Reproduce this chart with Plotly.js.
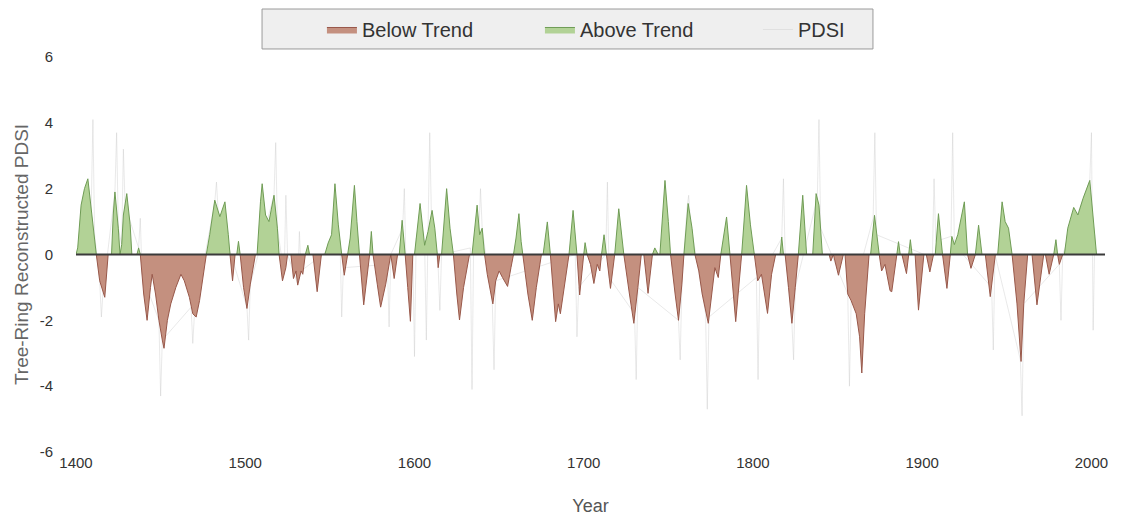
<!DOCTYPE html>
<html>
<head>
<meta charset="utf-8">
<script src="https://cdn.plot.ly/plotly-3.0.1.min.js"></script>
<style>html,body{margin:0;padding:0;background:#fff;}#chart{width:1122px;height:516px;}</style>
</head>
<body>
<div id="chart"></div>
<script>
// Smoothed (trend) reconstructed PDSI
var trendYears = [1400,1401,1403,1405,1407,1409,1411,1412,1414,1416,1417,1419,1421,1422,1423,1425,1426,1427,1428,1430,1432,1433,1436,1437,1438,1440,1442,1444,1445,1447,1449,1451,1452,1454,1456,1459,1462,1464,1467,1469,1471,1473,1475,1477,1479,1482,1485,1488,1490,1491,1492.5,1494,1495,1496,1497,1499,1501,1503,1506,1507,1509,1510,1512,1514,1517,1519,1520,1522,1524,1525,1527,1528.5,1530,1531,1533,1534,1535.5,1537,1538,1540,1542.5,1545,1547,1549,1551,1553,1555,1557,1558.5,1560.5,1562,1564.5,1566,1567.5,1570,1572,1573.5,1574.5,1575.5,1578,1580,1583,1586,1588,1590,1591,1592.7,1594.5,1596,1597.6,1599,1600,1603.3,1605,1606,1608,1610.4,1612,1613.5,1614,1615,1616,1619,1621,1623,1625,1626.6,1629,1632.5,1634,1637,1638.5,1640,1641.4,1643,1646.3,1648,1650,1652,1655,1657,1658.5,1660,1661.7,1663,1664,1667,1669.6,1672,1675,1676,1678.5,1680.3,1683.4,1685,1686.2,1689,1691.3,1693.7,1696,1697.6,1700,1700.8,1702,1704,1706,1708,1709.5,1710.5,1712,1713.4,1715.8,1718.3,1720.7,1723.7,1727,1729.6,1732,1734,1735.5,1738,1740.6,1742,1744,1745,1746.5,1748,1750,1751.3,1754,1756,1758,1759.2,1761.7,1764,1765.7,1768,1770,1773.6,1776,1777.5,1779.5,1781,1784.4,1786.4,1789.8,1793.3,1795,1796.2,1798.5,1800.8,1802.8,1805,1808.6,1811,1813.4,1816,1817,1818,1819,1821,1823,1825,1826.8,1829.4,1831.7,1834,1835.3,1837.3,1839,1841,1845,1846,1847.5,1850.5,1853.4,1854.4,1856,1858,1861,1863,1864.3,1866,1868.6,1869.5,1871.8,1874.6,1876,1878,1881,1882,1885,1886,1887,1888,1890.7,1892,1893,1894,1895.8,1897.8,1901,1902.4,1904.5,1906.7,1907.7,1909.6,1912,1914.6,1916.6,1917.5,1919,1921,1924.9,1926.8,1928.8,1931.4,1933.3,1935.3,1937.3,1940.2,1943.2,1944.6,1947.2,1949,1951,1953.1,1956,1958.4,1960,1962.3,1964.9,1967.8,1971.8,1972.8,1975,1977.7,1979,1980,1981,1983,1984,1986,1989.5,1992,1995,1999,2001,2003];
var trendValues = [0,0.2,1.5,2.0,2.3,1.4,0.6,0,-0.8,-1.1,-1.3,0,0,1.2,1.9,0.8,0,0.3,1.2,1.85,0.9,0,0,0.2,0,-1.2,-2.0,-1.0,-0.6,-1.2,-2.0,-2.6,-2.85,-2.0,-1.5,-1.0,-0.6,-0.8,-1.3,-1.8,-1.9,-1.4,-0.7,0,0.6,1.65,1.15,1.6,0.6,0,-0.8,0,0,0.4,0,-1.0,-1.64,-0.9,0,0,1.6,2.15,1.2,1.0,1.8,0.8,0,-0.8,-0.4,0,0,-0.73,-0.5,-0.93,-0.5,-0.6,0,0.28,0,0,-1.13,0,0,0.35,0.6,2.15,0.9,0,-0.63,0,0.5,2.1,1.0,0,-1.53,-0.6,0,0.7,0,-0.9,-1.6,-0.9,0,-0.73,0,0,1.04,0,-1.0,-2.03,0,0,1.55,0.6,0.28,0.7,1.34,0.8,0,-0.4,0,0,2.0,0.8,0,-1.2,-1.99,-1.0,0,0,1.5,0.6,0.8,0,-0.6,-1.5,-0.8,-0.5,-0.7,-0.97,-0.4,0,0.5,1.24,0.4,0,-1.2,-2.0,-1.0,0,0,0.99,0,-2.04,-1.5,-1.8,-0.8,0,1.34,0,-1.23,0,0.36,0,-0.3,-0.88,-0.3,-0.5,0,0.6,0,-1.03,0,1.39,0,-1.2,-2.09,-1.0,0,0,-1.18,0,0.2,0,0,1.2,2.25,1.0,0,-1.2,-2.0,-0.9,0,1.55,0.8,0,-0.5,-1.2,-2.09,-1.0,-0.4,-0.7,0,1.14,0,-2.04,0,1.2,2.1,0.9,0,-0.8,-0.6,-1.79,-0.6,0,0,0.53,0,0,-1.0,-2.09,-1.0,0,1.8,0,0,0,1.85,1.5,0,0,-0.2,0,-0.63,0,0,-1.2,-1.4,-1.8,-2.5,-3.6,-1.8,0,0,1.19,0,-0.5,-0.3,-1.1,-1.13,0,0.39,0,0,-0.58,0,0.45,0,0,-1.69,0,0,-0.53,0,0,1.24,0,-1.03,0,0.55,0.3,0.6,1.6,0,-0.42,0,0.89,0,0,-1.28,0,0,1.6,1.0,0.8,0,-1.5,-3.25,-1.5,0,0,-1.53,0,0,-0.6,0,0.45,0,-0.3,0,0,0.8,1.43,1.2,1.7,2.25,1.1,0];

// Annual PDSI (faint line), read where visible
var pdsiYears = [1409,1410,1411,1414,1415,1416,1423,1424,1425,1427,1428,1429,1437,1438,1439,1449,1450,1451,1468,1469,1470,1482,1483,1484,1501,1502,1503,1517,1518,1519,1523,1524,1525,1531,1532,1533,1556,1557,1558,1584,1585,1586,1593,1594,1595,1599,1600,1601,1606,1607,1608,1609,1610,1614,1615,1616,1633,1634,1635,1638,1639,1640,1646,1647,1648,1695,1696,1697,1713,1714,1715,1730,1731,1732,1756,1757,1758,1761,1762,1763,1772,1773,1774,1802,1803,1804,1817,1818,1819,1823,1824,1825,1838,1839,1840,1856,1857,1858,1871,1872,1873,1906,1907,1908,1917,1918,1919,1941,1942,1943,1958,1959,1960,1981,1982,1983,1999,2000,2001,2002];
var pdsiValues = [1.4,4.1,0.6,-0.8,-1.9,-1.1,1.9,3.7,0.8,0.3,3.2,1.5,0.2,1.1,-0.6,-2.0,-4.3,-2.6,-1.6,-2.7,-1.8,1.6,2.2,1.3,-1.6,-2.6,-0.9,1.8,3.4,0.8,-0.6,1.8,0,-0.9,0.7,-0.5,0.4,-1.9,-0.4,-0.3,-2.2,0,0.8,2.0,-0.3,0,-3.1,0.5,0.28,-2.6,0.7,3.7,1.2,-0.4,-1.7,0,0.2,-4.1,0.5,0.6,2.0,0.8,-1.5,-3.5,-0.8,0,-2.5,-1.0,0,2.2,-0.7,-1.8,-3.8,-1.0,-2.0,-3.2,-0.9,1.4,1.8,1.0,-1.8,-4.7,-1.9,-0.7,-3.8,-0.7,0.5,2.3,0,-2.09,-3.2,-1.0,1.7,4.1,0.8,-1.2,-4.0,-1.4,1.1,3.7,0.6,-0.1,2.3,0.4,0.55,3.7,0.3,-1.0,-2.9,0,-3.2,-4.9,-1.5,-0.3,-2.0,0,2.25,3.7,-2.3,0.6];

var tickYears = [1400,1500,1600,1700,1800,1900,2000];
var yTicks = [-6,-4,-2,0,2,4,6];
var yTickText = ['-6','-4','-2','0','2','4','6'];
var seriesNames = ['Below Trend','Above Trend','PDSI'];

var below = trendValues.map(function(v){ return v < 0 ? v : 0; });
var above = trendValues.map(function(v){ return v > 0 ? v : 0; });

var traces = [
  {x: pdsiYears, y: pdsiValues, type:'scatter', mode:'lines', name: seriesNames[2],
   line:{color:'rgba(200,200,200,0.4)', width:1}, legendrank:3},
  {x: trendYears, y: below, type:'scatter', mode:'lines', name: seriesNames[0],
   fill:'tozeroy', fillcolor:'#c4907f', line:{color:'#98584a', width:1}, legendrank:1},
  {x: trendYears, y: above, type:'scatter', mode:'lines', name: seriesNames[1],
   fill:'tozeroy', fillcolor:'#b2d296', line:{color:'#6f9c55', width:1}, legendrank:2}
];

var font = "'Liberation Sans', Arial, sans-serif";
var layout = {
  width:1122, height:516,
  margin:{l:76, r:17, t:57, b:64, autoexpand:false},
  paper_bgcolor:'#ffffff', plot_bgcolor:'#ffffff',
  font:{family:font, color:'#333'},
  showlegend:true,
  legend:{orientation:'h', x:0.239, xanchor:'left', y:1.119, yanchor:'top',
    bgcolor:'rgba(0,0,0,0)', borderwidth:0,
    font:{size:20, color:'#333'}, entrywidth:173, entrywidthmode:'pixels',
    traceorder:'normal'},
  xaxis:{range:[1400,2008], tickvals:tickYears, ticktext:tickYears.map(String),
    showgrid:false, zeroline:false, showline:false, ticks:'',
    tickfont:{size:15, color:'#333'},
    title:{text:'Year', font:{size:18, color:'#555'}, standoff:31}},
  yaxis:{range:[-6,6], tickvals:yTicks, ticktext:yTickText, showgrid:false, zeroline:false, showline:false, ticks:'',
    tickfont:{size:15, color:'#333'}, ticklabelstandoff:22,
    title:{text:'Tree-Ring Reconstructed PDSI', font:{size:19, color:'#666'}, standoff:6}},
  shapes:[
    {type:'rect', xref:'paper', yref:'paper', x0:0.1808, x1:0.7745, y0:1.0203, y1:1.1215,
     fillcolor:'#efefef', line:{color:'#9a9a9a', width:1}, layer:'below'},
    {type:'line', xref:'paper', x0:0, x1:1, yref:'y', y0:0, y1:0,
     line:{color:'#3a3a3a', width:2}, layer:'above'}]
};

Plotly.newPlot('chart', traces, layout, {displayModeBar:false, staticPlot:true});
</script>
</body>
</html>
